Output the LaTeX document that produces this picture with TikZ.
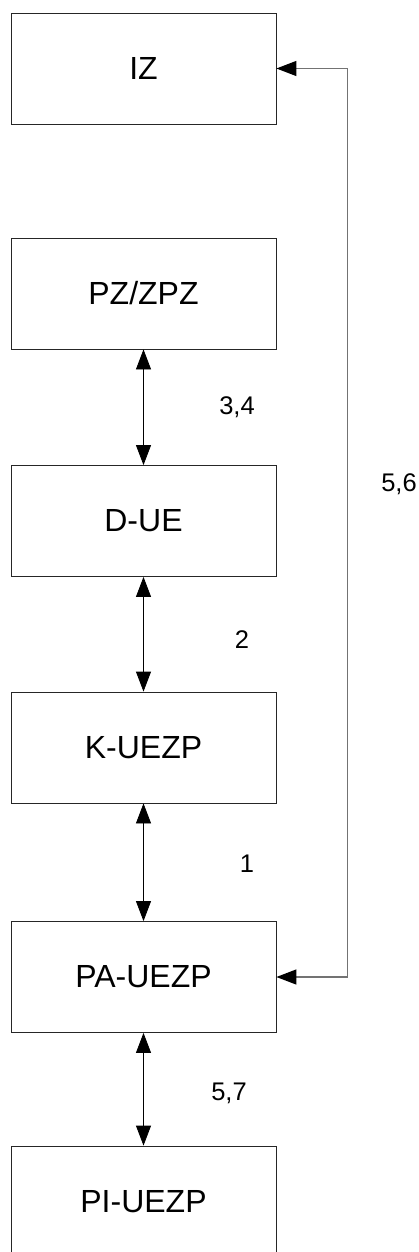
\documentclass[tikz,border=0pt]{standalone}
\usepackage{fontspec}
\setmainfont{Liberation Sans}
\usetikzlibrary{arrows.meta}
\begin{document}
\begin{tikzpicture}[x=1pt,y=-1pt,
  box/.style={draw=black!85,line width=0.8pt,rectangle,minimum width=265pt,minimum height=111pt,inner sep=0pt,font=\fontsize{32}{36}\selectfont},
  lbl/.style={font=\fontsize{25.5}{30}\selectfont,inner sep=0pt},
  conn/.style={line width=0.8pt,{Triangle[length=20pt,width=15pt]}-{Triangle[length=20pt,width=15pt]}},
  conng/.style={line width=1.3pt,draw=black!55,{Triangle[length=20pt,width=15pt,color=black,fill=black]}-{Triangle[length=20pt,width=15pt,color=black,fill=black]}}]
\useasboundingbox (0,0) rectangle (419,1252);
\clip (0,0) rectangle (419,1252);
\node[box] (iz) at (143.5,68.5) {IZ};
\node[box] (pz) at (143.5,293.5) {PZ/ZPZ};
\node[box] (due) at (143.5,521) {D-UE};
\node[box] (k) at (143.5,747.5) {K-UEZP};
\node[box] (pa) at (143.5,977) {PA-UEZP};
\node[box] (pi) at (143.5,1201.5) {PI-UEZP};
\draw[conn] (pz.south) -- (due.north);
\draw[conn] (due.south) -- (k.north);
\draw[conn] (k.south) -- (pa.north);
\draw[conn] (pa.south) -- (pi.north);
\coordinate (c1) at (347.5,68.5);
\coordinate (c2) at (347.5,977);
\draw[conng] (iz.east) -- (c1) -- (c2) -- (pa.east);
\node[lbl] (l34) at (237,407) {3,4};
\node[lbl] (l2) at (242,640) {2};
\node[lbl] (l1) at (247,864) {1};
\node[lbl] (l57) at (229,1093) {5,7};
\node[lbl] (l56) at (399,484) {5,6};
\end{tikzpicture}
\end{document}
